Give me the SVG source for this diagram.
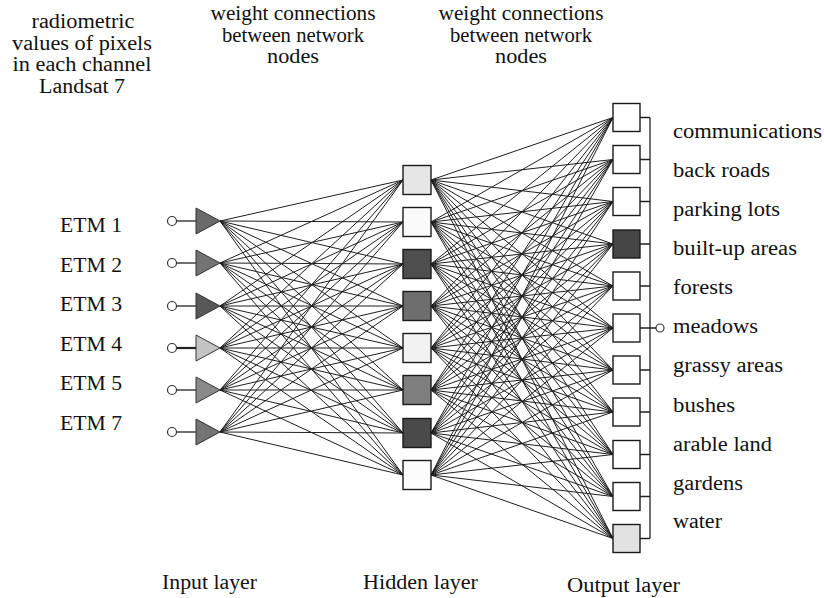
<svg xmlns="http://www.w3.org/2000/svg" width="824" height="598" viewBox="0 0 824 598">
<style>
text{font-family:"Liberation Serif","Times New Roman",serif;font-size:20px;fill:#111}
.c{text-anchor:middle}
.w{fill:none;stroke:#1e1e1e;stroke-width:1}
.tri{stroke:#333;stroke-width:1}
.box{stroke:#1a1a1a;stroke-width:1.4}
.in{fill:#fff;stroke:#333;stroke-width:1.2}
.ln{stroke:#222;stroke-width:1.3;fill:none}
</style>
<rect width="824" height="598" fill="#fff"/>
<g id="headers">
<text class="c" x="83" y="28" textLength="103" lengthAdjust="spacingAndGlyphs">radiometric</text>
<text class="c" x="82" y="50" textLength="140" lengthAdjust="spacingAndGlyphs">values of pixels</text>
<text class="c" x="82" y="71" textLength="139" lengthAdjust="spacingAndGlyphs">in each channel</text>
<text class="c" x="82" y="93" textLength="86" lengthAdjust="spacingAndGlyphs">Landsat 7</text>
<text class="c" x="293" y="20" textLength="165" lengthAdjust="spacingAndGlyphs">weight connections</text>
<text class="c" x="293" y="42" textLength="142" lengthAdjust="spacingAndGlyphs">between network</text>
<text class="c" x="293" y="63" textLength="52" lengthAdjust="spacingAndGlyphs">nodes</text>
<text class="c" x="521" y="20" textLength="165" lengthAdjust="spacingAndGlyphs">weight connections</text>
<text class="c" x="521" y="42" textLength="142" lengthAdjust="spacingAndGlyphs">between network</text>
<text class="c" x="521" y="63" textLength="52" lengthAdjust="spacingAndGlyphs">nodes</text>
<text x="162" y="589" textLength="95" lengthAdjust="spacingAndGlyphs">Input layer</text>
<text x="363" y="589" textLength="115" lengthAdjust="spacingAndGlyphs">Hidden layer</text>
<text x="567" y="592" textLength="113" lengthAdjust="spacingAndGlyphs">Output layer</text>
</g>
<g id="connectors">
<path class="w" d="M220 221L403 180M220 221L403 222M220 221L403 264M220 221L403 306M220 221L403 348M220 221L403 390M220 221L403 433M220 221L403 475"/>
<path class="w" d="M220 263L403 180M220 263L403 222M220 263L403 264M220 263L403 306M220 263L403 348M220 263L403 390M220 263L403 433M220 263L403 475"/>
<path class="w" d="M220 306L403 180M220 306L403 222M220 306L403 264M220 306L403 306M220 306L403 348M220 306L403 390M220 306L403 433M220 306L403 475"/>
<path class="w" d="M220 348L403 180M220 348L403 222M220 348L403 264M220 348L403 306M220 348L403 348M220 348L403 390M220 348L403 433M220 348L403 475"/>
<path class="w" d="M220 390L403 180M220 390L403 222M220 390L403 264M220 390L403 306M220 390L403 348M220 390L403 390M220 390L403 433M220 390L403 475"/>
<path class="w" d="M220 432L403 180M220 432L403 222M220 432L403 264M220 432L403 306M220 432L403 348M220 432L403 390M220 432L403 433M220 432L403 475"/>
<path class="w" d="M431 180L613 117.5M431 180L613 159.5M431 180L613 201.5M431 180L613 244M431 180L613 286M431 180L613 328M431 180L613 370M431 180L613 412M431 180L613 454.5M431 180L613 496.5M431 180L613 538.5"/>
<path class="w" d="M431 222L613 117.5M431 222L613 159.5M431 222L613 201.5M431 222L613 244M431 222L613 286M431 222L613 328M431 222L613 370M431 222L613 412M431 222L613 454.5M431 222L613 496.5M431 222L613 538.5"/>
<path class="w" d="M431 264L613 117.5M431 264L613 159.5M431 264L613 201.5M431 264L613 244M431 264L613 286M431 264L613 328M431 264L613 370M431 264L613 412M431 264L613 454.5M431 264L613 496.5M431 264L613 538.5"/>
<path class="w" d="M431 306L613 117.5M431 306L613 159.5M431 306L613 201.5M431 306L613 244M431 306L613 286M431 306L613 328M431 306L613 370M431 306L613 412M431 306L613 454.5M431 306L613 496.5M431 306L613 538.5"/>
<path class="w" d="M431 348L613 117.5M431 348L613 159.5M431 348L613 201.5M431 348L613 244M431 348L613 286M431 348L613 328M431 348L613 370M431 348L613 412M431 348L613 454.5M431 348L613 496.5M431 348L613 538.5"/>
<path class="w" d="M431 390L613 117.5M431 390L613 159.5M431 390L613 201.5M431 390L613 244M431 390L613 286M431 390L613 328M431 390L613 370M431 390L613 412M431 390L613 454.5M431 390L613 496.5M431 390L613 538.5"/>
<path class="w" d="M431 433L613 117.5M431 433L613 159.5M431 433L613 201.5M431 433L613 244M431 433L613 286M431 433L613 328M431 433L613 370M431 433L613 412M431 433L613 454.5M431 433L613 496.5M431 433L613 538.5"/>
<path class="w" d="M431 475L613 117.5M431 475L613 159.5M431 475L613 201.5M431 475L613 244M431 475L613 286M431 475L613 328M431 475L613 370M431 475L613 412M431 475L613 454.5M431 475L613 496.5M431 475L613 538.5"/>
<path class="ln" d="M640 117.5H650M640 159.5H650M640 201.5H650M640 244H650M640 286H650M640 328H650M640 370H650M640 412H650M640 454.5H650M640 496.5H650M640 538.5H650M650 117.5V538.5M650 328H656"/>
<circle class="in" cx="660" cy="328" r="4"/>
</g>
<g id="inputs">
<text x="60" y="232" textLength="62" lengthAdjust="spacingAndGlyphs">ETM 1</text>
<text x="60" y="272" textLength="62" lengthAdjust="spacingAndGlyphs">ETM 2</text>
<text x="60" y="311" textLength="62" lengthAdjust="spacingAndGlyphs">ETM 3</text>
<text x="60" y="351" textLength="62" lengthAdjust="spacingAndGlyphs">ETM 4</text>
<text x="60" y="390" textLength="62" lengthAdjust="spacingAndGlyphs">ETM 5</text>
<text x="60" y="430" textLength="62" lengthAdjust="spacingAndGlyphs">ETM 7</text>
</g>
<g id="in1"><path class="ln" d="M176.5 221H196"/><circle class="in" cx="172" cy="221" r="4.5"/><polygon class="tri" fill="#6a6a6a" points="196,208 196,234 220,221"/></g>
<g id="in2"><path class="ln" d="M176.5 263H196"/><circle class="in" cx="172" cy="263" r="4.5"/><polygon class="tri" fill="#737373" points="196,250 196,276 220,263"/></g>
<g id="in3"><path class="ln" d="M176.5 306H196"/><circle class="in" cx="172" cy="306" r="4.5"/><polygon class="tri" fill="#585858" points="196,293 196,319 220,306"/></g>
<g id="in4"><path class="ln" style="stroke-width:2.2" d="M176.5 348H196"/><circle class="in" cx="172" cy="348" r="4.5"/><polygon class="tri" fill="#c4c4c4" points="196,335 196,361 220,348"/></g>
<g id="in5"><path class="ln" d="M176.5 390H196"/><circle class="in" cx="172" cy="390" r="4.5"/><polygon class="tri" fill="#8a8a8a" points="196,377 196,403 220,390"/></g>
<g id="in7"><path class="ln" d="M176.5 432H196"/><circle class="in" cx="172" cy="432" r="4.5"/><polygon class="tri" fill="#747474" points="196,419 196,445 220,432"/></g>
<g id="hidden">
<rect id="h1" class="box" x="403" y="165.5" width="28" height="29" fill="#e6e6e6"/>
<rect id="h2" class="box" x="403" y="207.5" width="28" height="29" fill="#fafafa"/>
<rect id="h3" class="box" x="403" y="249.5" width="28" height="29" fill="#4e4e4e"/>
<rect id="h4" class="box" x="403" y="291.5" width="28" height="29" fill="#6e6e6e"/>
<rect id="h5" class="box" x="403" y="333.5" width="28" height="29" fill="#f2f2f2"/>
<rect id="h6" class="box" x="403" y="375.5" width="28" height="29" fill="#7e7e7e"/>
<rect id="h7" class="box" x="403" y="418.5" width="28" height="29" fill="#4a4a4a"/>
<rect id="h8" class="box" x="403" y="460.5" width="28" height="29" fill="#fcfcfc"/>
</g>
<g id="outputs">
<g id="o1"><rect class="box" x="613" y="103.5" width="27" height="28" fill="#fff"/><text x="673" y="138" textLength="149" lengthAdjust="spacingAndGlyphs">communications</text></g>
<g id="o2"><rect class="box" x="613" y="145.5" width="27" height="28" fill="#fff"/><text x="673" y="177" textLength="97" lengthAdjust="spacingAndGlyphs">back roads</text></g>
<g id="o3"><rect class="box" x="613" y="187.5" width="27" height="28" fill="#fff"/><text x="673" y="216" textLength="107" lengthAdjust="spacingAndGlyphs">parking lots</text></g>
<g id="o4"><rect class="box" x="613" y="230" width="27" height="28" fill="#464646"/><text x="673" y="255" textLength="124" lengthAdjust="spacingAndGlyphs">built-up areas</text></g>
<g id="o5"><rect class="box" x="613" y="272" width="27" height="28" fill="#fff"/><text x="673" y="294" textLength="60" lengthAdjust="spacingAndGlyphs">forests</text></g>
<g id="o6"><rect class="box" x="613" y="314" width="27" height="28" fill="#fff"/><text x="673" y="333" textLength="85" lengthAdjust="spacingAndGlyphs">meadows</text></g>
<g id="o7"><rect class="box" x="613" y="356" width="27" height="28" fill="#fff"/><text x="673" y="372" textLength="110" lengthAdjust="spacingAndGlyphs">grassy areas</text></g>
<g id="o8"><rect class="box" x="613" y="398" width="27" height="28" fill="#fff"/><text x="673" y="412" textLength="62" lengthAdjust="spacingAndGlyphs">bushes</text></g>
<g id="o9"><rect class="box" x="613" y="440.5" width="27" height="28" fill="#fff"/><text x="673" y="451" textLength="99" lengthAdjust="spacingAndGlyphs">arable land</text></g>
<g id="o10"><rect class="box" x="613" y="482.5" width="27" height="28" fill="#fff"/><text x="673" y="490" textLength="70" lengthAdjust="spacingAndGlyphs">gardens</text></g>
<g id="o11"><rect class="box" x="613" y="524.5" width="27" height="28" fill="#e2e2e2"/><text x="673" y="528" textLength="49" lengthAdjust="spacingAndGlyphs">water</text></g>
</g>
</svg>
